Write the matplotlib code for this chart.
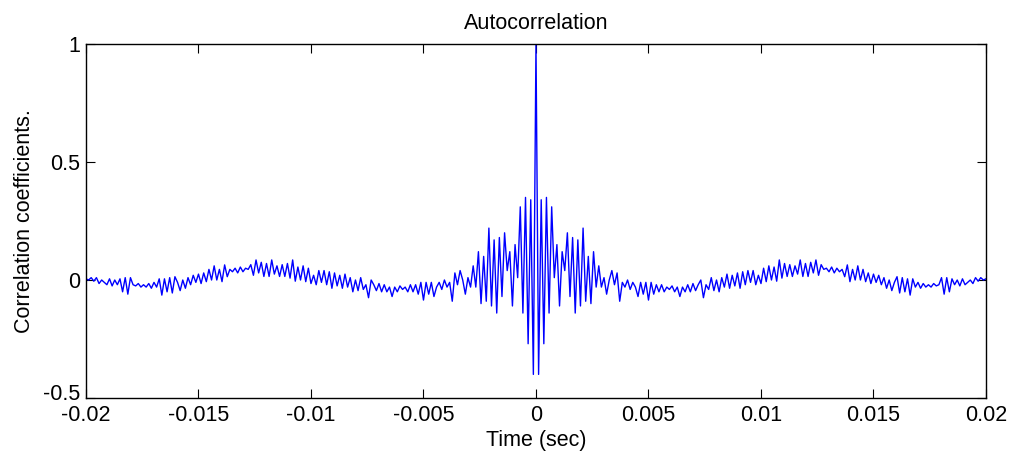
import numpy as np
import matplotlib
matplotlib.use("Agg")
import matplotlib.pyplot as plt
import matplotlib.transforms as mtransforms

# sampling rate of the correlated signal (Hz)
fs = 8600

# autocorrelation coefficients for lags 0..172 (positive side)
corr_pos = [
    1.00, -0.40, 0.34, -0.27, 0.35, -0.14, 0.31, 0.01, 0.15, -0.11,
    0.12, 0.04, 0.20, -0.07, 0.18, -0.14, 0.17, -0.11, 0.22, -0.09,
    0.10, -0.10, 0.12, -0.03, 0.06, -0.03, 0.01, -0.06, 0.00, 0.04,
    -0.02, 0.03, -0.09, -0.01, -0.03, 0.00, -0.04, -0.01, -0.03, -0.07,
    -0.01, -0.06, -0.01, -0.085, -0.01, -0.06, -0.02, -0.05, -0.02, -0.05,
    -0.03, -0.04, -0.025, -0.05, -0.03, -0.07, -0.03, -0.05, -0.02, -0.05,
    -0.015, -0.045, -0.02, 0.00, -0.075, -0.02, -0.04, 0.01, -0.045, 0.00,
    -0.05, 0.01, -0.03, 0.025, -0.035, 0.02, -0.025, 0.03, -0.035, 0.035,
    -0.02, 0.04, -0.01, 0.04, -0.02, 0.02, -0.015, 0.05, -0.007, 0.06,
    0.00, 0.055, -0.005, 0.085, 0.008, 0.07, 0.015, 0.065, 0.015, 0.06,
    0.025, 0.085, 0.015, 0.07, 0.015, 0.075, 0.03, 0.085, 0.02, 0.065,
    0.045, 0.05, 0.035, 0.055, 0.03, 0.05, 0.035, 0.045, 0.014, 0.064,
    -0.007, 0.045, 0.00, 0.06, 0.00, 0.045, -0.007, 0.03, -0.015, 0.025,
    -0.01, 0.02, -0.02, 0.01, -0.035, 0.00, -0.045, -0.01, 0.014, -0.055,
    0.01, -0.05, 0.005, -0.064, 0.005, -0.03, -0.01, -0.035, -0.015, -0.03,
    -0.02, -0.03, -0.015, -0.025, -0.02, 0.01, -0.06, 0.01, -0.05, 0.005,
    -0.02, 0.00, -0.025, 0.005, -0.02, -0.01, 0.00, -0.015, 0.01, -0.005,
    0.01, 0.00, 0.005,
]

xtick_vals = [-0.02, -0.015, -0.01, -0.005, 0, 0.005, 0.01, 0.015, 0.02]
xtick_labels = ['-0.02', '-0.015', '-0.01', '-0.005', '0', '0.005', '0.01', '0.015', '0.02']
ytick_vals = [-0.5, 0, 0.5, 1]
ytick_labels = ['-0.5', '0', '0.5', '1']

# autocorrelation is symmetric: build the full lag axis
corr_pos = np.array(corr_pos)
lags = np.arange(-(len(corr_pos) - 1), len(corr_pos))
corr = np.concatenate([corr_pos[:0:-1], corr_pos])
t = lags / fs

plt.rcParams['font.family'] = ['Liberation Sans', 'DejaVu Sans']
fsize = 15.5

fig = plt.figure(figsize=(10.09, 4.57), dpi=100)
ax = fig.add_axes([0.0852, 0.1291, 0.892, 0.7746])

ax.plot(t, corr, color=(0, 0, 1), linewidth=1.0)

ax.set_xlim(-0.02, 0.02)
ax.set_ylim(-0.5, 1)
ax.set_xticks(xtick_vals)
ax.set_xticklabels(xtick_labels)
ax.set_yticks(ytick_vals)
ax.set_yticklabels(ytick_labels)

ax.tick_params(direction='in', top=True, right=True, length=6.5, width=0.8,
               labelsize=fsize, colors='black')
ax.tick_params(axis='x', pad=5)
ax.tick_params(axis='y', pad=4)
for s in ax.spines.values():
    s.set_linewidth(1.0)

# lift the bottom y label a little so it clears the x tick labels (matlab look)
lbl = ax.yaxis.get_major_ticks()[0].label1
lbl.set_transform(lbl.get_transform() + mtransforms.ScaledTranslation(0, 4 / 72, fig.dpi_scale_trans))

ax.set_title('Autocorrelation', fontsize=fsize, pad=11)
ax.set_xlabel('Time (sec)', fontsize=fsize, labelpad=3)
ax.set_ylabel('Correlation coefficients.', fontsize=fsize, labelpad=6)

fig.savefig('out.png', dpi=100)
